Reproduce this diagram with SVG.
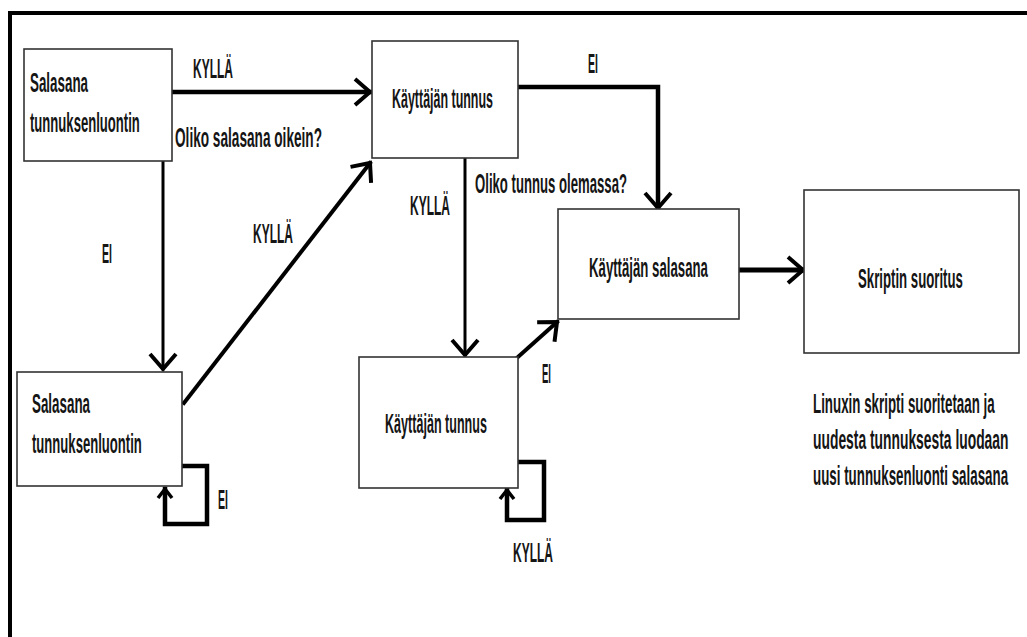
<svg xmlns="http://www.w3.org/2000/svg" width="1027" height="637" viewBox="0 0 1027 637">
<style>
.node rect{fill:#fff;stroke:#333;stroke-width:1.6}
text{font-family:"Liberation Sans",Arial,sans-serif;font-weight:bold;font-size:28px;fill:#151515}
.c{fill:none;stroke:#000;stroke-linecap:square;stroke-linejoin:miter}
</style>
<defs>
<marker id="ah" markerUnits="userSpaceOnUse" markerWidth="40" markerHeight="40" refX="0" refY="0" orient="auto" overflow="visible">
<path d="M-15,-13 L0,0 L-15,13" fill="none" stroke="#000" stroke-width="4"/>
</marker>
<marker id="ahs" markerUnits="userSpaceOnUse" markerWidth="30" markerHeight="30" refX="0" refY="0" orient="auto" overflow="visible">
<path d="M-9,-7 L0,0 L-9,7" fill="none" stroke="#000" stroke-width="3.5"/>
</marker>
</defs>
<rect width="1027" height="637" fill="#fff"/>
<g id="frame">
<line x1="8" y1="13" x2="1027" y2="13" stroke="#000" stroke-width="4"/>
<line x1="10" y1="11" x2="10" y2="637" stroke="#000" stroke-width="4"/>
</g>
<g id="connectors">
<path class="c" d="M172,92 H370" stroke-width="4.5" marker-end="url(#ah)"/>
<path class="c" d="M163,161 V369" stroke-width="3" marker-end="url(#ah)"/>
<path class="c" d="M184,403 L370,163" stroke-width="4" marker-end="url(#ah)"/>
<path class="c" d="M518,87 H658 V208" stroke-width="4.5" marker-end="url(#ah)"/>
<path class="c" d="M465,158 V355" stroke-width="3" marker-end="url(#ah)"/>
<path class="c" d="M518,357 L557,322" stroke-width="4" marker-end="url(#ah)"/>
<path class="c" d="M739,270 H803" stroke-width="5" marker-end="url(#ah)"/>
<path class="c" d="M182,466 H207 V524 H165 V489" stroke-width="4.5" marker-end="url(#ahs)"/>
<path class="c" d="M518,462 H544 V520 H507 V490" stroke-width="4.5" marker-end="url(#ahs)"/>
</g>
<g id="labels">
<text transform="translate(193,78) scale(0.429,1)">KYLLÄ</text>
<text transform="translate(175,147) scale(0.487,1)">Oliko salasana oikein?</text>
<text transform="translate(588,73) scale(0.378,1)">EI</text>
<text transform="translate(475,193) scale(0.47,1)">Oliko tunnus olemassa?</text>
<text transform="translate(410,215) scale(0.429,1)">KYLLÄ</text>
<text transform="translate(102,263) scale(0.378,1)">EI</text>
<text transform="translate(253,243) scale(0.429,1)">KYLLÄ</text>
<text transform="translate(218,509) scale(0.378,1)">EI</text>
<text transform="translate(542,383) scale(0.34,1)">EI</text>
<text transform="translate(513,562) scale(0.429,1)">KYLLÄ</text>
<text transform="translate(813,413) scale(0.477,1)">Linuxin skripti suoritetaan ja</text>
<text transform="translate(813,449) scale(0.495,1)">uudesta tunnuksesta luodaan</text>
<text transform="translate(813,485) scale(0.477,1)">uusi tunnuksenluonti salasana</text>
</g>
<g id="box1" class="node">
<rect x="24" y="49" width="148" height="112"/>
<text transform="translate(30,92) scale(0.478,1)">Salasana</text>
<text transform="translate(30,132) scale(0.468,1)">tunnuksenluontin</text>
</g>
<g id="box2" class="node">
<rect x="372" y="41" width="146" height="117"/>
<text transform="translate(392,108) scale(0.445,1)">Käyttäjän tunnus</text>
</g>
<g id="box3" class="node">
<rect x="17" y="372" width="165" height="114"/>
<text transform="translate(32,413) scale(0.478,1)">Salasana</text>
<text transform="translate(32,453) scale(0.468,1)">tunnuksenluontin</text>
</g>
<g id="box4" class="node">
<rect x="359" y="357" width="159" height="131"/>
<text transform="translate(385,433) scale(0.449,1)">Käyttäjän tunnus</text>
</g>
<g id="box5" class="node">
<rect x="558" y="209" width="181" height="110"/>
<text transform="translate(589,277) scale(0.472,1)">Käyttäjän salasana</text>
</g>
<g id="box6" class="node">
<rect x="804" y="190" width="215" height="163"/>
<text transform="translate(858,288) scale(0.472,1)">Skriptin suoritus</text>
</g>
</svg>
